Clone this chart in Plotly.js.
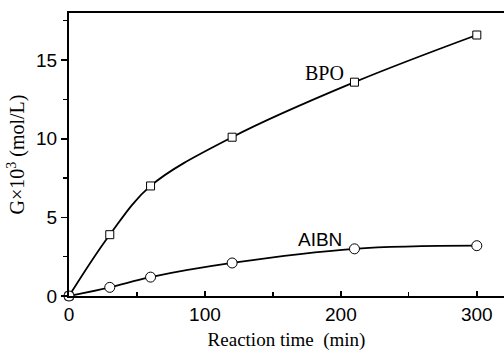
<!DOCTYPE html>
<html>
<head>
<meta charset="utf-8">
<script src="https://cdn.plot.ly/plotly-3.0.1.min.js"></script>
<style>html,body{margin:0;padding:0;background:#fff;}#chart{width:504px;height:355px;}</style>
</head>
<body>
<div id="chart"></div>
<script>
var timeMin = [0, 30, 60, 120, 210, 300];
var bpo = [0, 3.9, 7.0, 10.1, 13.6, 16.6];
var aibn = [0, 0.55, 1.2, 2.1, 3.0, 3.2];
var xTicks = [0, 100, 200, 300];
var yTicks = [0, 5, 10, 15];

var traces = [
  {x: timeMin, y: bpo, name: 'BPO', mode: 'lines+markers', line: {color: '#000', width: 1.8, shape: 'spline', smoothing: 1},
   marker: {symbol: 'square', size: 8, color: '#fff', line: {width: 1, color: '#000'}}, cliponaxis: false},
  {x: timeMin, y: aibn, name: 'AIBN', mode: 'lines+markers', line: {color: '#000', width: 1.8, shape: 'spline', smoothing: 1},
   marker: {symbol: 'circle', size: 10, color: '#fff', line: {width: 1, color: '#000'}}, cliponaxis: false}
];

var layout = {
  width: 504, height: 355,
  margin: {l: 69, r: 0, t: 13, b: 59},
  paper_bgcolor: '#fff', plot_bgcolor: '#fff',
  showlegend: false,
  xaxis: {
    range: [0, 320], showgrid: false, zeroline: false,
    showline: true, linecolor: '#000', linewidth: 2, mirror: true,
    ticks: 'inside', ticklen: 5, tickwidth: 1.5, tickcolor: '#000',
    tickvals: xTicks, ticktext: xTicks.map(String),
    minor: {tickvals: [50, 150, 250], ticks: 'inside', ticklen: 4, tickwidth: 1.2, tickcolor: '#000'},
    tickfont: {family: 'Liberation Sans, Arial', size: 19, color: '#000'},
    title: {text: 'Reaction time  (min)', font: {family: 'Liberation Serif', size: 19, color: '#000'}, standoff: 9}
  },
  yaxis: {
    range: [0, 18], showgrid: false, zeroline: false,
    showline: true, linecolor: '#000', linewidth: 2, mirror: false,
    ticks: 'outside', ticklen: 6, tickwidth: 1.5, tickcolor: '#000',
    tickvals: yTicks, ticktext: yTicks.map(String),
    minor: {tickvals: [2.5, 7.5, 12.5, 17.5], ticks: 'outside', ticklen: 4, tickwidth: 1.2, tickcolor: '#000'},
    tickfont: {family: 'Liberation Sans, Arial', size: 19, color: '#000'},
    title: {text: 'G×10<sup>3</sup> (mol/L)', font: {family: 'Liberation Serif', size: 20, color: '#000'}, standoff: 6}
  },
  annotations: [
    {x: 188, y: 14.2, xref: 'x', yref: 'y', text: 'BPO', showarrow: false, xanchor: 'center', yanchor: 'middle',
     font: {family: 'Liberation Serif', size: 20, color: '#000'}},
    {x: 184.5, y: 3.57, xref: 'x', yref: 'y', text: 'AIBN', showarrow: false, xanchor: 'center', yanchor: 'middle',
     font: {family: 'Liberation Sans, Arial', size: 19, color: '#000'}}
  ]
};

Plotly.newPlot('chart', traces, layout, {displayModeBar: false, staticPlot: true});
</script>
</body>
</html>
